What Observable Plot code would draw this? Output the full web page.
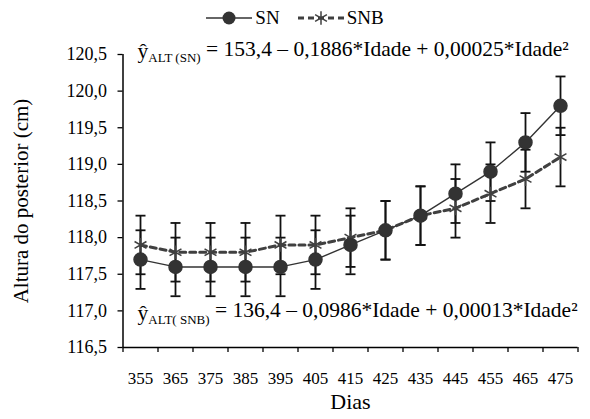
<!DOCTYPE html>
<html><head><meta charset="utf-8">
<script src="https://cdn.jsdelivr.net/npm/d3@7"></script>
<script src="https://cdn.jsdelivr.net/npm/@observablehq/plot@0.6"></script>
<style>
html,body{margin:0;padding:0;background:#fff;}
#legend{height:36px;display:flex;justify-content:center;align-items:center;font-family:"Liberation Serif",serif;font-size:19px;color:#000;gap:0;}
#legend .item{display:flex;align-items:center;margin:0 9px;}
#legend svg{display:block;margin-right:3px;}
</style>
</head><body>
<div id="legend"></div>
<div id="chart"></div>
<script>
const days = [355, 365, 375, 385, 395, 405, 415, 425, 435, 445, 455, 465, 475];
const sn   = [117.7, 117.6, 117.6, 117.6, 117.6, 117.7, 117.9, 118.1, 118.3, 118.6, 118.9, 119.3, 119.8];
const snb  = [117.9, 117.8, 117.8, 117.8, 117.9, 117.9, 118.0, 118.1, 118.3, 118.4, 118.6, 118.8, 119.1];
const snErr  = [0.4, 0.4, 0.4, 0.4, 0.4, 0.4, 0.4, 0.4, 0.4, 0.4, 0.4, 0.4, 0.4];
const snbErr = [0.4, 0.4, 0.4, 0.4, 0.4, 0.4, 0.4, 0.4, 0.4, 0.4, 0.4, 0.4, 0.4];
const yTicks = [116.5, 117.0, 117.5, 118.0, 118.5, 119.0, 119.5, 120.0, 120.5];
const xTickMarks = [350, 360, 370, 380, 390, 400, 410, 420, 430, 440, 450, 460, 470, 480];
const seriesNames = ["SN", "SNB"];
const eqSubs = ["ALT (SN)", "ALT( SNB)"];
const eqRest = [" = 153,4 \u2013 0,1886*Idade + 0,00025*Idade\u00B2", " = 136,4 \u2013 0,0986*Idade + 0,00013*Idade\u00B2"];
const eqY = [120.5, 116.93];
const yLabel = "Altura do posterior (cm)";
const xLabel = "Dias";

const rowsSN = days.map((d, i) => ({day: d, v: sn[i], e: snErr[i]}));
const rowsSNB = days.map((d, i) => ({day: d, v: snb[i], e: snbErr[i]}));
const eqs = eqSubs.map((s, i) => ({sub: s, rest: eqRest[i], y: eqY[i], x: days[0]}));

const capSymbol = {draw(ctx, size) { const r = Math.sqrt(size / Math.PI); ctx.moveTo(-r, 0); ctx.lineTo(r, 0); }};
const fmt = d => d.toFixed(1).replace(".", ",");
const F = "'Liberation Serif', serif";

const plot = Plot.plot({
  width: 590, height: 383,
  marginLeft: 122.5, marginRight: 12.5, marginTop: 18, marginBottom: 72,
  style: {fontFamily: F, fontSize: "18px", color: "#000", background: "#fff", overflow: "visible"},
  x: {type: "linear", domain: [350, 480], axis: null},
  y: {domain: [116.5, 120.5], axis: null},
  marks: [
    Plot.axisY(yTicks, {tickSize: 5, tickPadding: 11, tickFormat: fmt, fontSize: 18, strokeWidth: 1.3, label: null}),
    Plot.axisX(days, {tickSize: 0, tickPadding: 24, tickFormat: d => String(d), fontSize: 17, label: null}),
    Plot.axisX(xTickMarks, {tickSize: 5, tickFormat: () => "", strokeWidth: 1.3, label: null}),
    Plot.ruleY([116.5], {strokeWidth: 1.5}),
    Plot.ruleX([350], {strokeWidth: 1.5}),
    Plot.line(rowsSN, {x: "day", y: "v", stroke: "#333", strokeWidth: 1.4}),
    Plot.line(rowsSNB, {x: "day", y: "v", stroke: "#404040", strokeWidth: 3, strokeDasharray: "6,4"}),
    Plot.ruleX(rowsSNB, {x: "day", y1: d => d.v - d.e, y2: d => d.v + d.e, stroke: "#111", strokeWidth: 1.8}),
    Plot.ruleX(rowsSN, {x: "day", y1: d => d.v - d.e, y2: d => d.v + d.e, stroke: "#111", strokeWidth: 1.8}),
    Plot.dot(rowsSNB, {x: "day", y: d => d.v - d.e, symbol: capSymbol, r: 5, stroke: "#111", fill: "none", strokeWidth: 1.8}),
    Plot.dot(rowsSNB, {x: "day", y: d => d.v + d.e, symbol: capSymbol, r: 5, stroke: "#111", fill: "none", strokeWidth: 1.8}),
    Plot.dot(rowsSN, {x: "day", y: d => d.v - d.e, symbol: capSymbol, r: 5, stroke: "#111", fill: "none", strokeWidth: 1.8}),
    Plot.dot(rowsSN, {x: "day", y: d => d.v + d.e, symbol: capSymbol, r: 5, stroke: "#111", fill: "none", strokeWidth: 1.8}),
    Plot.dot(rowsSNB, {x: "day", y: "v", symbol: "asterisk", r: 6.5, stroke: "#404040", strokeWidth: 1.5}),
    Plot.dot(rowsSN, {x: "day", y: "v", symbol: "circle", r: 6.5, fill: "#333", stroke: "#333"}),
    Plot.text(eqs, {x: "x", y: "y", text: d => "\u0177|" + d.sub + "|" + d.rest, textAnchor: "start", dx: -3, dy: -3, fontSize: 21.5, fill: "#000", className: "eq"}),
    Plot.text([yLabel], {frameAnchor: "left", textAnchor: "middle", rotate: -90, dx: -102, fontSize: 21, fill: "#000"}),
    Plot.text([xLabel], {frameAnchor: "bottom", dy: 61, fontSize: 22, fill: "#000"})
  ]
});
document.getElementById("chart").appendChild(plot);

// turn equation strings into text with a lowered, smaller subscript
d3.select(plot).selectAll(".eq text").each(function() {
  const parts = this.textContent.split("|");
  const t = d3.select(this);
  t.text("");
  t.append("tspan").text(parts[0]);
  t.append("tspan").attr("font-size", 13).attr("dy", "0.3em").text(parts[1]);
  t.append("tspan").attr("dy", "-0.3em").text(parts[2]);
});

// legend
const leg = d3.select("#legend");
seriesNames.forEach((name, i) => {
  const item = leg.append("div").attr("class", "item");
  const s = item.append("svg").attr("width", 46).attr("height", 20);
  if (i === 0) {
    s.append("line").attr("x1", 0).attr("x2", 46).attr("y1", 10).attr("y2", 10).attr("stroke", "#333").attr("stroke-width", 1.4);
    s.append("circle").attr("cx", 23).attr("cy", 10).attr("r", 6.5).attr("fill", "#333");
  } else {
    s.append("line").attr("x1", 0).attr("x2", 46).attr("y1", 10).attr("y2", 10).attr("stroke", "#404040").attr("stroke-width", 3).attr("stroke-dasharray", "6,4");
    s.append("path").attr("transform", "translate(23,10)").attr("d", d3.symbol(d3.symbolAsterisk, Math.PI * 42)()).attr("stroke", "#404040").attr("stroke-width", 1.5).attr("fill", "none");
  }
  item.append("span").text(name);
});
</script>
</body></html>
